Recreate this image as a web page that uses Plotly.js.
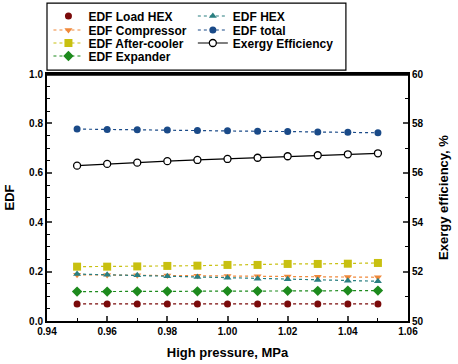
<!DOCTYPE html>
<html><head><meta charset="utf-8">
<script src="https://cdn.plot.ly/plotly-3.0.1.min.js"></script>
<style>body{margin:0;background:#fff}#c{width:458px;height:364px}</style>
</head><body><div id="c"></div>
<script>
const pressure = [0.95,0.96,0.97,0.98,0.99,1.00,1.01,1.02,1.03,1.04,1.05];
const edfLoadHex = [0.069,0.069,0.069,0.069,0.069,0.069,0.069,0.069,0.069,0.069,0.069];
const edfCompressor = [0.187,0.186,0.185,0.184,0.183,0.182,0.181,0.180,0.179,0.178,0.177];
const edfAfterCooler = [0.220,0.220,0.221,0.223,0.224,0.227,0.227,0.231,0.231,0.232,0.235];
const edfExpander = [0.119,0.119,0.120,0.120,0.120,0.121,0.121,0.122,0.122,0.123,0.123];
const edfHex = [0.190,0.187,0.185,0.181,0.178,0.175,0.171,0.169,0.166,0.163,0.161];
const edfTotal = [0.777,0.775,0.774,0.773,0.771,0.770,0.768,0.767,0.765,0.764,0.762];
const exergyEff = [56.29,56.36,56.41,56.47,56.52,56.56,56.61,56.67,56.71,56.75,56.79];

const F = 'Liberation Sans, Arial, sans-serif';
function dot(name, y, color, symbol, size, legend) {
  return {x: pressure, y: y, name: name, type: 'scatter', mode: 'lines+markers',
    line: {color: color, dash: 'dot', width: 1.2},
    marker: {color: color, symbol: symbol, size: size},
    legend: legend};
}
const traces = [
  Object.assign(dot('EDF Load HEX', edfLoadHex, '#7a0a0a', 'circle', 7, 'legend'), {showlegend:false}),
  {x:[null], y:[null], name:'EDF Load HEX', type:'scatter', mode:'markers', marker:{color:'#7a0a0a', symbol:'circle', size:7}, legend:'legend'},
  dot('EDF Compressor', edfCompressor, '#f0883a', 'triangle-down', 7, 'legend3'),
  dot('EDF After-cooler', edfAfterCooler, '#c8c010', 'square', 8, 'legend4'),
  dot('EDF Expander', edfExpander, '#1d8a1d', 'diamond', 8, 'legend5'),
  dot('EDF HEX', edfHex, '#2a7f80', 'triangle-up', 7, 'legend2'),
  dot('EDF total', edfTotal, '#1a4a88', 'circle', 7, 'legend6'),
  {x: pressure, y: exergyEff, name: 'Exergy Efficiency', type:'scatter', mode:'lines+markers', yaxis:'y2',
   line:{color:'#000', width:1.2}, marker:{color:'#fff', symbol:'circle', size:7, line:{color:'#000', width:1.3}}, legend:'legend7'}
];
const tickf = {family: F, size: 10, color: '#000', weight: 'bold'};
const legf = {family: F, size: 12, weight: 'bold', color: '#000'};
function leg(x, py) {
  return {x: x, y: 1 + (74 - py) / 247, xanchor: 'left', yanchor: 'middle', bgcolor: 'rgba(0,0,0,0)',
    font: legf, tracegroupgap: 0, itemwidth: 30, borderwidth: 0};
}
const layout = {
  width: 458, height: 364,
  margin: {l: 47, r: 50, t: 74, b: 43, autoexpand: false},
  paper_bgcolor: '#fff', plot_bgcolor: '#fff',
  font: {family: F, color: '#000'},
  showlegend: true,
  xaxis: {range: [0.94, 1.06], dtick: 0.02, tickformat: '.2f', ticks: 'inside', ticklen: 5, tickwidth: 2,
    showline: true, linewidth: 2, linecolor: '#000', mirror: true, showgrid: false, zeroline: false,
    minor: {dtick: 0.01, ticks: 'inside', ticklen: 3, tickwidth: 1, tickcolor: '#000'},
    tickfont: tickf,
    title: {text: 'High pressure, MPa', font: {family: F, size: 13, weight: 'bold'}, standoff: 12}},
  yaxis: {range: [0, 1], dtick: 0.2, tickformat: '.1f', ticks: 'inside', ticklen: 5, tickwidth: 2,
    showline: true, linewidth: 2, linecolor: '#000', showgrid: false, zeroline: false,
    minor: {dtick: 0.05, ticks: 'inside', ticklen: 3, tickwidth: 1, tickcolor: '#000'},
    tickfont: tickf,
    title: {text: 'EDF', font: {family: F, size: 13, weight: 'bold'}, standoff: 12}},
  yaxis2: {range: [50, 60], dtick: 2, overlaying: 'y', side: 'right', ticks: 'inside', ticklen: 5, tickwidth: 2,
    showline: true, linewidth: 2, linecolor: '#000', showgrid: false, zeroline: false,
    minor: {dtick: 1, ticks: 'inside', ticklen: 3, tickwidth: 1, tickcolor: '#000'},
    tickfont: tickf,
    title: {text: 'Exergy efficiency, %', font: {family: F, size: 13, weight: 'bold'}, standoff: 16}},
  legend: leg(0.004, 16),
  legend3: leg(0.004, 30),
  legend4: leg(0.004, 43),
  legend5: leg(0.004, 56),
  legend2: leg(0.404, 16),
  legend6: leg(0.404, 30),
  legend7: leg(0.404, 43),
  shapes: [
    {type: 'rect', xref: 'paper', yref: 'paper', x0: 0, x1: 0.828, y0: 1.016, y1: 1.287,
     line: {color: '#000', width: 1.2}, fillcolor: 'rgba(0,0,0,0)'},
    {type: 'line', xref: 'paper', yref: 'paper', x0: 0, x1: 1, y0: 1, y1: 1, line: {color: '#000', width: 3.5}}
  ]
};
Plotly.newPlot('c', traces, layout, {displayModeBar: false, staticPlot: true});
</script>
</body></html>
